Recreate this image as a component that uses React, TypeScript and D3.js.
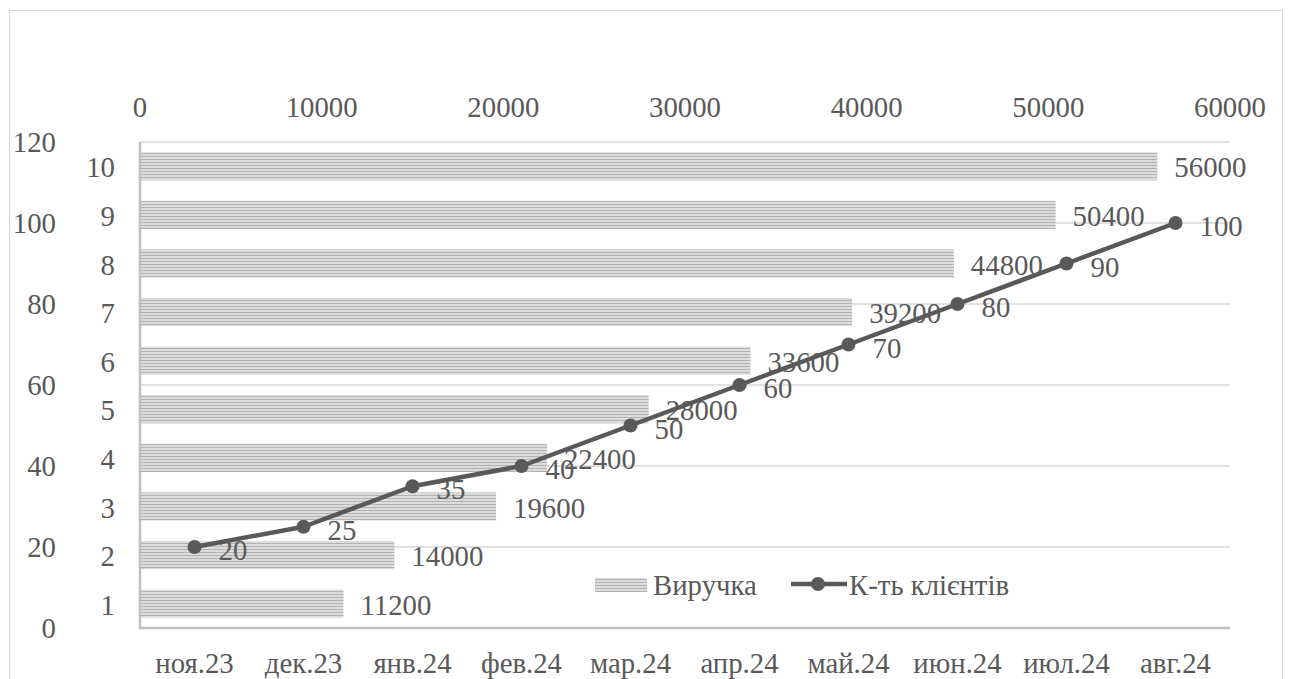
import React from "react";
import * as d3 from "d3";

// Monthly data: revenue (bars, top axis) and number of clients (line, left axis)
const months = ["ноя.23", "дек.23", "янв.24", "фев.24", "мар.24", "апр.24", "май.24", "июн.24", "июл.24", "авг.24"];
const barCategories = ["1", "2", "3", "4", "5", "6", "7", "8", "9", "10"];
const revenue = [11200, 14000, 19600, 22400, 28000, 33600, 39200, 44800, 50400, 56000];
const clients = [20, 25, 35, 40, 50, 60, 70, 80, 90, 100];
const revenueTicks = [0, 10000, 20000, 30000, 40000, 50000, 60000];
const clientTicks = [0, 20, 40, 60, 80, 100, 120];
const seriesNames = ["Виручка", "К-ть клієнтів"];

const W = 1289;
const H = 679;
const plot = { left: 140, right: 1230, top: 142, bottom: 628 };
const FONT = "Liberation Serif, Tinos, Times New Roman, DejaVu Serif, serif";
const FS = 28.8;
const TEXT = "#595959";
const txt = { fontFamily: FONT, fontSize: FS };

export default function App() {
  const xRev = d3.scaleLinear().domain([0, 60000]).range([plot.left, plot.right]);
  const yCli = d3.scaleLinear().domain([0, 120]).range([plot.bottom, plot.top]);
  const yBar = d3
    .scaleBand<string>()
    .domain(barCategories)
    .range([plot.bottom, plot.top])
    .paddingInner(0.42)
    .paddingOuter(0.21);
  const xMonth = d3.scalePoint<string>().domain(months).range([plot.left, plot.right]).padding(0.5);

  const linePath = d3
    .line<number>()
    .x((_, i) => xMonth(months[i])!)
    .y((d) => yCli(d))(clients);

  return (
    <svg
      width={W}
      height={H}
      style={{ position: "absolute", left: 0, top: 0, background: "#fff" }}
    >
      <defs>
        <pattern id="stripes" width={6} height={3} patternUnits="userSpaceOnUse">
          <rect width={6} height={3} fill="#dcdcdc" />
          <rect width={6} height={1} fill="#b3b3b3" />
        </pattern>
      </defs>

      {/* chart frame */}
      <rect x={9.5} y={10.5} width={1273} height={700} fill="none" stroke="#d9d9d9" strokeWidth={1} />

      {/* horizontal gridlines from the client axis */}
      {clientTicks.slice(1).map((t) => (
        <line key={t} x1={plot.left} x2={plot.right} y1={yCli(t)} y2={yCli(t)} stroke="#d9d9d9" strokeWidth={1.5} />
      ))}

      {/* revenue bars */}
      {revenue.map((v, i) => (
        <rect
          key={i}
          x={plot.left}
          y={yBar(barCategories[i])!}
          width={xRev(v) - plot.left}
          height={yBar.bandwidth()}
          fill="url(#stripes)"
        />
      ))}

      {/* axis lines */}
      <line x1={plot.left} x2={plot.left} y1={plot.top} y2={plot.bottom + 1} stroke="#bfbfbf" strokeWidth={2.5} />
      <line x1={plot.left - 1} x2={plot.right} y1={plot.bottom} y2={plot.bottom} stroke="#bfbfbf" strokeWidth={2.5} />

      {/* revenue labels */}
      {revenue.map((v, i) => (
        <text
          key={i}
          style={txt}
          x={xRev(v) + 17}
          y={yBar(barCategories[i])! + yBar.bandwidth() / 2 + 11}
          fill={TEXT}
        >
          {v}
        </text>
      ))}

      {/* clients line */}
      <path d={linePath!} fill="none" stroke="#595959" strokeWidth={4.5} strokeLinejoin="round" />
      {clients.map((v, i) => (
        <circle key={i} cx={xMonth(months[i])!} cy={yCli(v)} r={7} fill="#595959" />
      ))}
      {clients.map((v, i) => (
        <text key={i} style={txt} x={xMonth(months[i])! + 24} y={yCli(v) + 13} fill={TEXT}>
          {v}
        </text>
      ))}

      {/* top revenue axis */}
      {revenueTicks.map((t) => (
        <text key={t} style={txt} x={xRev(t)} y={117} textAnchor="middle" fill={TEXT}>
          {t}
        </text>
      ))}

      {/* left clients axis */}
      {clientTicks.map((t) => (
        <text key={t} style={txt} x={56} y={yCli(t) + 10} textAnchor="end" fill={TEXT}>
          {t}
        </text>
      ))}

      {/* bar category labels */}
      {barCategories.map((c) => (
        <text key={c} style={txt} x={115} y={yBar(c)! + yBar.bandwidth() / 2 + 11} textAnchor="end" fill={TEXT}>
          {c}
        </text>
      ))}

      {/* month labels */}
      {months.map((m) => (
        <text key={m} style={txt} x={xMonth(m)!} y={673} textAnchor="middle" fill={TEXT}>
          {m}
        </text>
      ))}

      {/* legend */}
      <rect x={595} y={578} width={52} height={14} fill="url(#stripes)" />
      <text style={txt} x={653} y={595} fill={TEXT}>
        {seriesNames[0]}
      </text>
      <line x1={791} x2={847} y1={584} y2={584} stroke="#595959" strokeWidth={4.5} />
      <circle cx={818} cy={584} r={7} fill="#595959" />
      <text style={txt} x={849} y={595} fill={TEXT}>
        {seriesNames[1]}
      </text>
    </svg>
  );
}
